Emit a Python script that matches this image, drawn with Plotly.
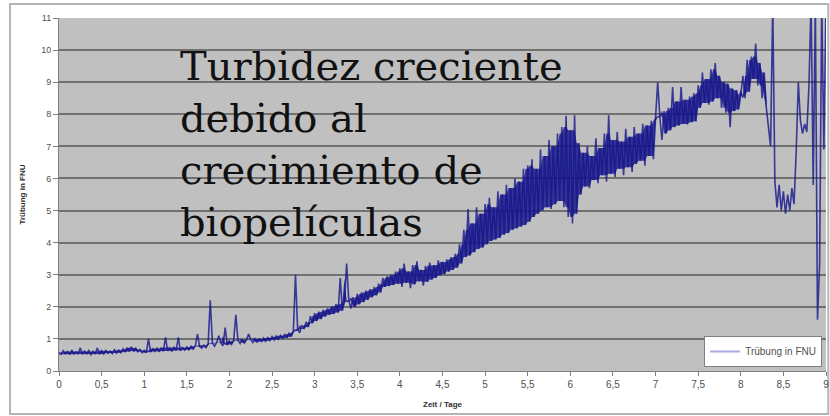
import numpy as np
import pandas as pd
import plotly.graph_objects as go

# Turbidity readings (FNU), sampled every 0.025 days from day 0 to day 9
turbidity = [
    # 0.0 - 0.475
    0.58,0.52,0.63,0.54,0.61,0.51,0.65,0.53,0.60,0.54,0.72,0.52,0.62,0.54,0.64,0.51,0.61,0.53,0.72,0.52,
    # 0.5 - 0.975
    0.63,0.53,0.64,0.55,0.62,0.54,0.66,0.56,0.65,0.57,0.69,0.59,0.73,0.61,0.75,0.62,0.71,0.60,0.67,0.57,
    # 1.0 - 1.475
    0.64,0.57,1.00,0.59,0.69,0.61,0.71,0.60,0.73,0.62,1.05,0.63,0.72,0.61,0.74,0.64,1.05,0.63,0.73,0.65,
    # 1.5 - 1.975
    0.75,0.66,0.77,0.68,0.79,1.15,0.76,0.71,0.81,0.73,0.85,2.20,0.87,0.77,0.89,1.10,0.87,0.79,1.35,0.81,
    # 2.0 - 2.475
    0.93,0.83,0.96,1.75,0.95,0.86,0.99,0.87,0.97,1.15,0.98,0.89,1.01,0.90,1.00,0.92,1.03,0.93,1.04,0.95,
    # 2.5 - 2.975
    1.07,0.97,1.10,0.99,1.11,1.02,1.15,1.04,1.19,1.07,1.25,3.00,1.31,1.19,1.43,1.31,1.53,1.37,1.71,1.49,
    # 3.0 - 3.475
    1.80,1.56,1.85,1.62,1.90,1.70,1.95,1.75,2.02,1.78,2.08,1.82,2.90,1.88,2.15,3.35,2.20,1.95,2.30,2.00,
    # 3.5 - 3.975
    2.40,2.08,2.45,2.15,2.50,2.22,2.55,2.30,2.62,2.36,2.72,2.45,2.90,2.62,2.95,2.65,3.00,2.68,3.10,2.72,
    # 4.0 - 4.475
    3.20,2.62,3.35,2.75,3.10,2.58,3.30,2.70,3.42,2.80,3.15,2.66,3.28,2.78,3.38,2.85,3.30,2.90,3.45,2.98,
    # 4.5 - 4.975
    3.40,3.02,3.48,3.10,3.55,3.15,3.65,3.22,3.95,3.35,4.40,3.55,5.05,3.60,4.60,3.70,5.10,3.80,4.90,3.85,
    # 5.0 - 5.475
    5.20,3.95,5.40,4.05,5.10,4.10,5.60,4.15,5.50,4.25,5.80,4.30,5.70,4.40,6.00,4.45,5.90,4.50,6.30,4.55,
    # 5.5 - 5.975
    6.40,4.65,6.60,4.80,6.30,4.90,6.90,5.00,6.70,5.10,7.20,5.05,7.00,5.20,7.40,5.30,7.60,5.10,7.95,4.80,
    # 6.0 - 6.475
    7.50,4.60,7.97,4.90,7.10,5.50,6.80,5.75,7.00,5.70,6.70,5.95,7.25,5.85,6.95,6.10,7.40,5.90,7.97,6.15,
    # 6.5 - 6.975
    7.20,6.05,7.45,6.30,7.15,6.10,7.55,6.35,7.30,6.20,7.60,6.45,7.40,6.55,7.70,6.40,7.65,6.70,7.80,6.60,
    # 7.0 - 7.475
    7.90,9.00,7.95,7.20,8.10,7.40,8.20,7.50,8.85,7.60,8.40,7.65,8.85,7.70,8.45,7.68,8.55,7.75,8.65,7.78,
    # 7.5 - 7.975
    8.90,8.20,9.30,8.35,9.10,8.30,9.40,8.40,9.60,8.50,9.20,8.20,9.00,8.05,8.95,7.60,8.80,8.10,8.75,8.15,
    # 8.0 - 8.475
    8.60,9.20,8.50,9.70,8.70,9.80,9.10,10.20,8.90,9.60,8.50,9.30,8.20,7.60,7.00,11.50,5.90,5.10,5.80,5.00,
    # 8.5 - 9.0
    5.60,4.90,5.50,5.00,5.70,5.20,6.80,9.00,7.80,7.40,7.70,7.45,8.90,11.50,5.80,11.50,1.60,3.30,11.50,6.90,11.50,
]
days = np.linspace(0, 9, len(turbidity))

x_ticks = [0, 0.5, 1, 1.5, 2, 2.5, 3, 3.5, 4, 4.5, 5, 5.5, 6, 6.5, 7, 7.5, 8, 8.5, 9]
x_tick_labels = ["0", "0,5", "1", "1,5", "2", "2,5", "3", "3,5", "4", "4,5", "5",
                 "5,5", "6", "6,5", "7", "7,5", "8", "8,5", "9"]
y_ticks = list(range(0, 12))

series_name = "Trübung in FNU"
x_title = "Zeit / Tage"
y_title = "Trübung in FNU"
note = "Turbidez creciente<br>debido al<br>crecimiento de<br>biopelículas"

# dense core of the noisy signal: between the higher lows and the lower highs
s = pd.Series(turbidity)
core_lo = s.rolling(4, center=True, min_periods=1).quantile(0.34, interpolation="lower")
core_hi = s.rolling(4, center=True, min_periods=1).quantile(0.67, interpolation="lower")
mask = days > 8.3
core_lo[mask] = np.nan
core_hi[mask] = np.nan

navy = "#16168c"
fig = go.Figure()
fig.add_trace(go.Scatter(x=days, y=core_lo, mode="lines", line=dict(width=0, color=navy),
                         showlegend=False, hoverinfo="skip"))
fig.add_trace(go.Scatter(x=days, y=core_hi, mode="lines", line=dict(width=0, color=navy),
                         fill="tonexty", fillcolor="rgba(22,22,140,0.82)",
                         showlegend=False, hoverinfo="skip"))
fig.add_trace(go.Scatter(
    x=days, y=turbidity, mode="lines",
    line=dict(color=navy, width=1.6),
    showlegend=False, hoverinfo="skip", opacity=0.8,
))
fig.add_trace(go.Scatter(
    x=[None], y=[None], mode="lines", name=series_name,
    line=dict(color="#a9a9e2", width=2),
))

fig.update_layout(
    width=830, height=416,
    margin=dict(l=59, r=4, t=18, b=45),
    paper_bgcolor="white",
    plot_bgcolor="#c0c0c0",
    font=dict(family="Liberation Sans, Arial, sans-serif", size=9, color="#404040"),
    xaxis=dict(
        range=[0, 9], tickvals=x_ticks, ticktext=x_tick_labels,
        showgrid=False, zeroline=False, automargin=False,
        showline=True, linecolor="#808080", linewidth=1,
        ticks="outside", ticklen=4, tickcolor="#808080",
        title=dict(text="<b>" + x_title + "</b>", font=dict(size=8, color="#303030"), standoff=12),
        tickfont=dict(size=10, color="#505050"),
    ),
    yaxis=dict(
        range=[0, 11], tickvals=y_ticks,
        showgrid=True, gridcolor="#707070", gridwidth=1.6,
        zeroline=False, automargin=False,
        showline=True, linecolor="#808080", linewidth=1,
        ticks="outside", ticklen=5, tickcolor="#808080",
        title=dict(text="<b>" + y_title + "</b>", font=dict(size=8, color="#303030"), standoff=14),
        tickfont=dict(size=9, color="#505050"),
    ),
    legend=dict(
        x=0.995, y=0.055, xanchor="right", yanchor="middle",
        bgcolor="white", bordercolor="#808080", borderwidth=1,
        font=dict(size=10, color="#505050"),
        itemwidth=30, tracegroupgap=0,
    ),
    shapes=[dict(
        type="rect", xref="paper", yref="paper",
        x0=-0.0639, x1=1.003, y0=-0.1218, y1=1.0397,
        line=dict(color="#b4b4b4", width=2), fillcolor="rgba(0,0,0,0)", layer="below",
    )],
    annotations=[dict(
        text=note, xref="paper", yref="paper",
        x=0.155, y=0.935, xanchor="left", yanchor="top", align="left",
        showarrow=False,
        font=dict(family="DejaVu Serif, serif", size=40, color="#111111"),
    )],
)

fig.write_html(
    "out.html",
    config={"displayModeBar": False},
    post_script="document.body.style.margin='0';document.body.style.overflow='hidden';",
)
